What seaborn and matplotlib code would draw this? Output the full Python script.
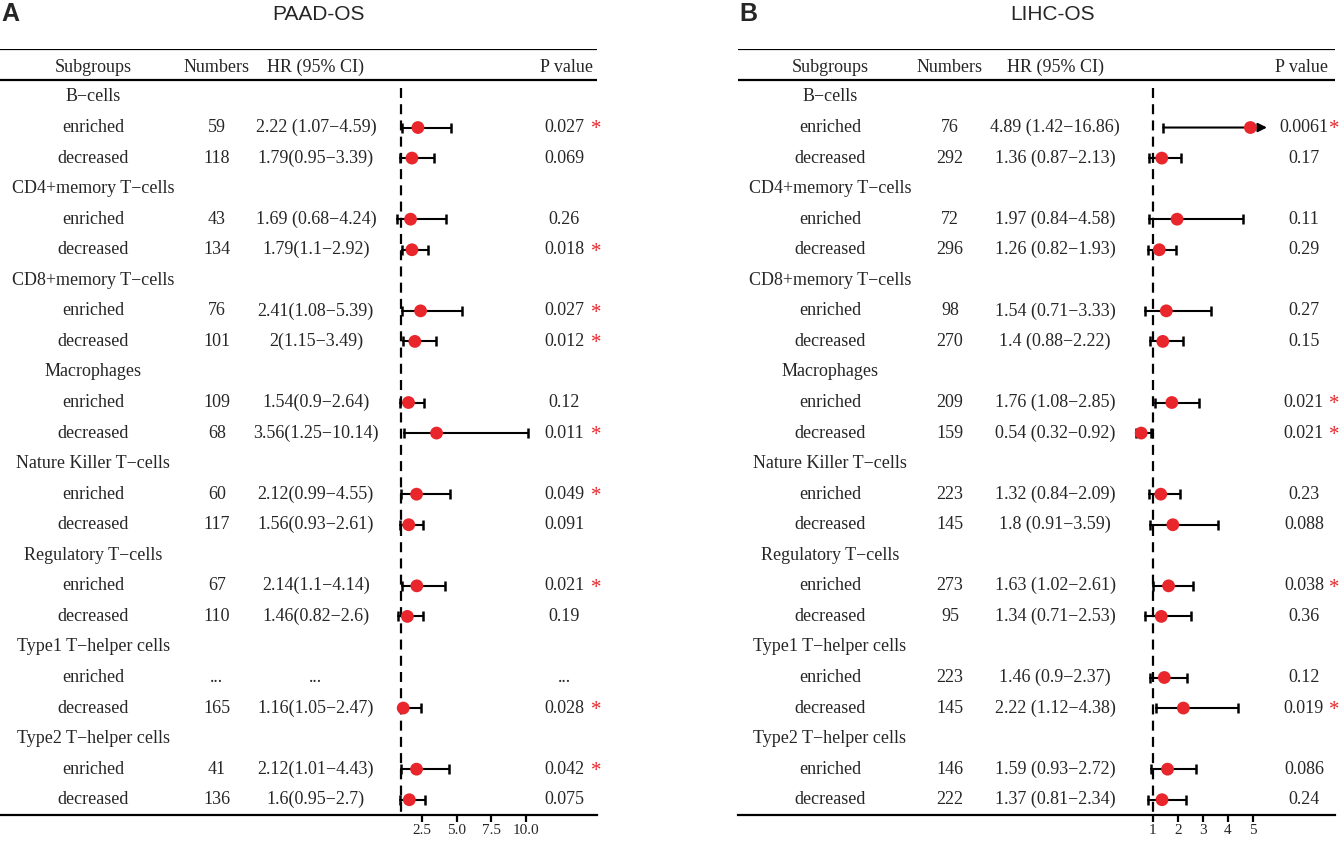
import numpy as np
import pandas as pd
import matplotlib
matplotlib.use("Agg")
import matplotlib.pyplot as plt
import matplotlib.transforms as mtransforms
import seaborn as sns

# groups of immune cells, each with an enriched / decreased row
groups = ["B−cells", "CD4+memory T−cells", "CD8+memory T−cells", "Macrophages",
          "Nature Killer T−cells", "Regulatory T−cells", "Type1 T−helper cells",
          "Type2 T−helper cells"]
levels = ["enriched", "decreased"]

# PAAD-OS
paad_n = ["59", "118", "43", "134", "76", "101", "109", "68",
          "60", "117", "67", "110", "...", "165", "41", "136"]
paad_hr_txt = ["2.22 (1.07−4.59)", "1.79(0.95−3.39)", "1.69 (0.68−4.24)", "1.79(1.1−2.92)",
               "2.41(1.08−5.39)", "2(1.15−3.49)", "1.54(0.9−2.64)", "3.56(1.25−10.14)",
               "2.12(0.99−4.55)", "1.56(0.93−2.61)", "2.14(1.1−4.14)", "1.46(0.82−2.6)",
               "...", "1.16(1.05−2.47)", "2.12(1.01−4.43)", "1.6(0.95−2.7)"]
paad_hr = [2.22, 1.79, 1.69, 1.79, 2.41, 2, 1.54, 3.56, 2.12, 1.56, 2.14, 1.46, None, 1.16, 2.12, 1.6]
paad_lo = [1.07, 0.95, 0.68, 1.1, 1.08, 1.15, 0.9, 1.25, 0.99, 0.93, 1.1, 0.82, None, 1.05, 1.01, 0.95]
paad_hi = [4.59, 3.39, 4.24, 2.92, 5.39, 3.49, 2.64, 10.14, 4.55, 2.61, 4.14, 2.6, None, 2.47, 4.43, 2.7]
paad_p = ["0.027", "0.069", "0.26", "0.018", "0.027", "0.012", "0.12", "0.011",
          "0.049", "0.091", "0.021", "0.19", "...", "0.028", "0.042", "0.075"]
paad_sig = [1, 0, 0, 1, 1, 1, 0, 1, 1, 0, 1, 0, 0, 1, 1, 0]

# LIHC-OS
lihc_n = ["76", "292", "72", "296", "98", "270", "209", "159",
          "223", "145", "273", "95", "223", "145", "146", "222"]
lihc_hr_txt = ["4.89 (1.42−16.86)", "1.36 (0.87−2.13)", "1.97 (0.84−4.58)", "1.26 (0.82−1.93)",
               "1.54 (0.71−3.33)", "1.4 (0.88−2.22)", "1.76 (1.08−2.85)", "0.54 (0.32−0.92)",
               "1.32 (0.84−2.09)", "1.8 (0.91−3.59)", "1.63 (1.02−2.61)", "1.34 (0.71−2.53)",
               "1.46 (0.9−2.37)", "2.22 (1.12−4.38)", "1.59 (0.93−2.72)", "1.37 (0.81−2.34)"]
lihc_hr = [4.89, 1.36, 1.97, 1.26, 1.54, 1.4, 1.76, 0.54, 1.32, 1.8, 1.63, 1.34, 1.46, 2.22, 1.59, 1.37]
lihc_lo = [1.42, 0.87, 0.84, 0.82, 0.71, 0.88, 1.08, 0.32, 0.84, 0.91, 1.02, 0.71, 0.9, 1.12, 0.93, 0.81]
lihc_hi = [16.86, 2.13, 4.58, 1.93, 3.33, 2.22, 2.85, 0.92, 2.09, 3.59, 2.61, 2.53, 2.37, 4.38, 2.72, 2.34]
lihc_p = ["0.0061", "0.17", "0.11", "0.29", "0.27", "0.15", "0.021", "0.021",
          "0.23", "0.088", "0.038", "0.36", "0.12", "0.019", "0.086", "0.24"]
lihc_sig = [1, 0, 0, 0, 0, 0, 1, 1, 0, 0, 1, 0, 0, 1, 0, 0]

sns.set_theme(style="white")
plt.rcParams['font.family'] = ['Liberation Serif', 'DejaVu Serif']

RED = '#e8262b'
FS = 13


def forest(ax, n, hr_txt, hr, lo, hi, p, sig, xlim, ticks, ticklabels, cols, arrow_max):
    ax.set_xlim(*xlim)
    ax.set_ylim(23.5, -1.57)
    tr = mtransforms.blended_transform_factory(ax.transAxes, ax.transData)
    # header
    ax.text(cols[0], -0.98, "Subgroups", transform=tr, ha='center', va='center', fontsize=FS)
    ax.text(cols[1], -0.98, "Numbers", transform=tr, ha='center', va='center', fontsize=FS)
    ax.text(cols[2], -0.98, "HR (95% CI)", transform=tr, ha='center', va='center', fontsize=FS)
    ax.text(cols[4], -0.98, "P value", transform=tr, ha='right', va='center', fontsize=FS)
    ax.axhline(-1.57, color='black', lw=1.6)
    ax.axhline(-0.56, color='black', lw=1.6)
    ax.plot([1, 1], [-0.3, 23.5], color='black', lw=1.6, ls=(0, (4.5, 2.8)), zorder=1)

    rows = []
    for g_i, g in enumerate(groups):
        y0 = g_i * 3
        ax.text(cols[0], y0, g, transform=tr, ha='center', va='center', fontsize=FS)
        for l_i, lev in enumerate(levels):
            k = g_i * 2 + l_i
            y = y0 + 1 + l_i
            ax.text(cols[0], y, lev, transform=tr, ha='center', va='center', fontsize=FS)
            ax.text(cols[1], y, n[k], transform=tr, ha='center', va='center', fontsize=FS)
            ax.text(cols[2], y, hr_txt[k], transform=tr, ha='center', va='center', fontsize=FS)
            ax.text(cols[3], y, p[k], transform=tr, ha='center', va='center', fontsize=FS)
            if sig[k]:
                ax.text(cols[5], y + 0.08, "*", transform=tr, ha='center', va='center',
                        fontsize=FS + 2, color=RED)
            if hr[k] is None:
                continue
            rows.append((y, hr[k], lo[k], hi[k]))

    df = pd.DataFrame(rows, columns=['y', 'hr', 'lo', 'hi'])
    for _, r in df.iterrows():
        if r.hi > arrow_max:
            ax.annotate("", xy=(arrow_max, r.y), xytext=(r.lo, r.y),
                        arrowprops=dict(arrowstyle='-|>', color='black', lw=1.5,
                                        mutation_scale=13, shrinkA=0, shrinkB=0))
            ax.plot([r.lo], [r.y], marker='|', color='black', ms=6.5, mew=1.8)
        else:
            ax.plot([r.lo, r.hi], [r.y, r.y], color='black', lw=1.5, zorder=2)
            ax.plot([r.lo, r.hi], [r.y, r.y], ls='none', marker='|', color='black', ms=6.5, mew=1.8)
    sns.scatterplot(data=df, x='hr', y='y', ax=ax, color=RED, s=85, edgecolor='none',
                    zorder=3, legend=False)

    ax.set_xticks(ticks)
    ax.set_xticklabels(ticklabels, fontsize=11)
    ax.set_yticks([])
    ax.set_xlabel("")
    ax.set_ylabel("")
    for s in ['top', 'left', 'right']:
        ax.spines[s].set_visible(False)
    ax.spines['bottom'].set_linewidth(1.6)
    ax.spines['bottom'].set_color('black')
    ax.tick_params(axis='x', bottom=True, length=5, width=1.6, color='black', pad=1.5)


fig = plt.figure(figsize=(13.4, 8.41), dpi=100)
axA = fig.add_axes([0.0, 1 - 815 / 841, 597 / 1340, (815 - 49) / 841])
axB = fig.add_axes([738 / 1340, 1 - 815 / 841, 597 / 1340, (815 - 49) / 841])

forest(axA, paad_n, paad_hr_txt, paad_hr, paad_lo, paad_hi, paad_p, paad_sig,
       (-27.84, 15.1), [2.5, 5.0, 7.5, 10.0], ["2.5", "5.0", "7.5", "10.0"],
       [0.156, 0.363, 0.529, 0.945, 0.993, 0.998], 20)
forest(axB, lihc_n, lihc_hr_txt, lihc_hr, lihc_lo, lihc_hi, lihc_p, lihc_sig,
       (-15.52, 8.26), [1, 2, 3, 4, 5], ["1", "2", "3", "4", "5"],
       [0.154, 0.355, 0.531, 0.948, 0.988, 0.998], 5.55)

sans = ['Liberation Sans', 'DejaVu Sans']
fig.text(10 / 1340, 1 - 14 / 841, "A", fontsize=18, fontweight='bold', family=sans,
         ha='center', va='center')
fig.text(318 / 1340, 1 - 14 / 841, "PAAD-OS", fontsize=15, family=sans, ha='center', va='center')
fig.text(748 / 1340, 1 - 14 / 841, "B", fontsize=18, fontweight='bold', family=sans,
         ha='center', va='center')
fig.text(1053 / 1340, 1 - 14 / 841, "LIHC-OS", fontsize=15, family=sans, ha='center', va='center')

fig.savefig("out.png", dpi=100, facecolor='white')
